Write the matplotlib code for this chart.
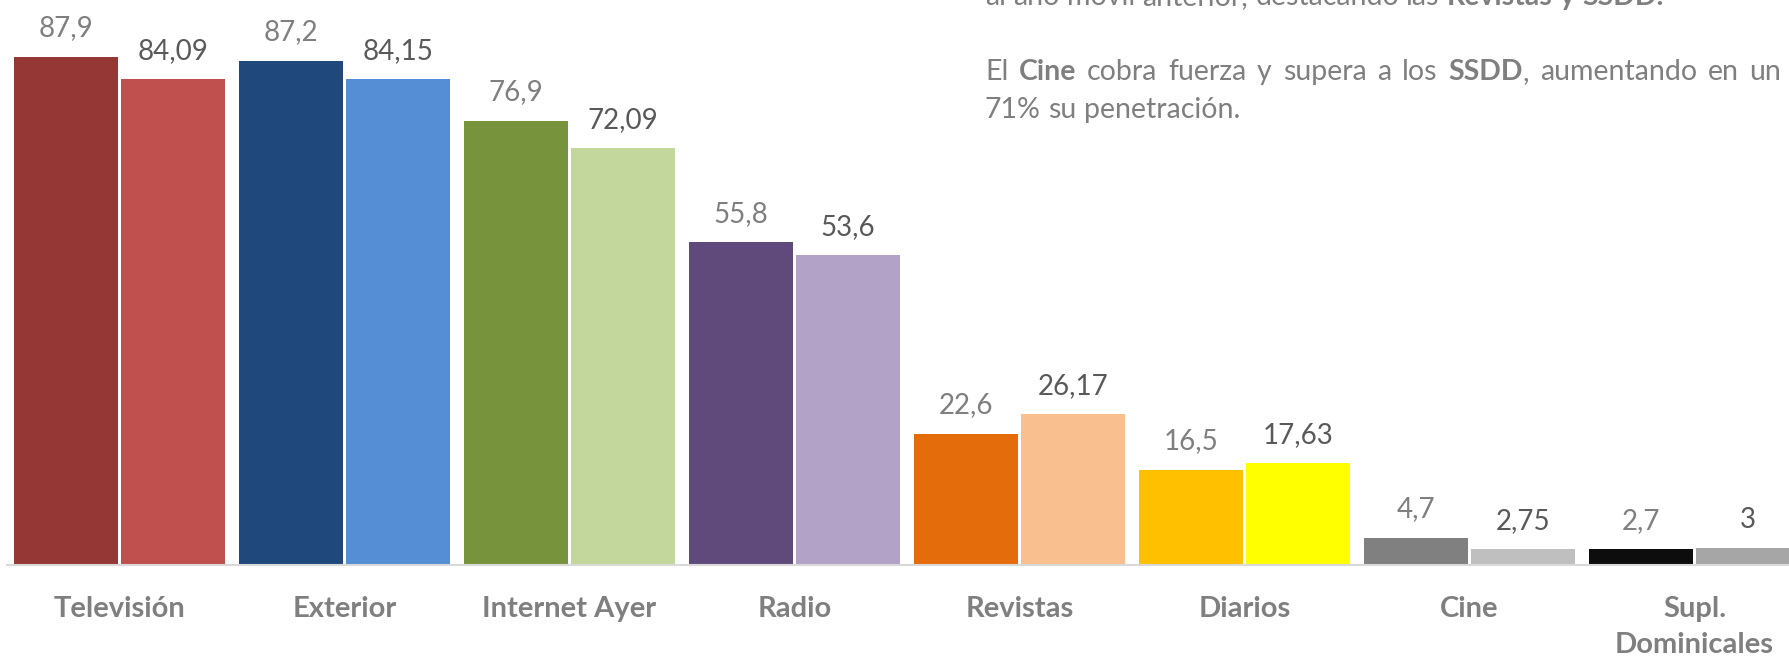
import matplotlib
matplotlib.use("Agg")
import matplotlib.pyplot as plt
from matplotlib.transforms import IdentityTransform, blended_transform_factory

plt.rcParams["font.family"] = ["Lato", "DejaVu Sans"]

categories = ["Televisión", "Exterior", "Internet Ayer", "Radio",
              "Revistas", "Diarios", "Cine", "Supl.\nDominicales"]
prev_values = [87.9, 87.2, 76.9, 55.8, 22.6, 16.5, 4.7, 2.7]
curr_values = [84.09, 84.15, 72.09, 53.6, 26.17, 17.63, 2.75, 3]
prev_labels = ["87,9", "87,2", "76,9", "55,8", "22,6", "16,5", "4,7", "2,7"]
curr_labels = ["84,09", "84,15", "72,09", "53,6", "26,17", "17,63", "2,75", "3"]

prev_colors = ["#953735", "#1F497D", "#77933C", "#604A7B",
               "#E46C0A", "#FFC000", "#808080", "#0D0D0D"]
curr_colors = ["#C0504D", "#558ED5", "#C3D69B", "#B3A2C7",
               "#F9BF8F", "#FFFF00", "#BFBFBF", "#A6A6A6"]

W, H = 1790, 658
fig = plt.figure(figsize=(W / 100, H / 100), dpi=100)

# axes: baseline at y=565px, left edge at 7px, runs to the right border
base_px = 565
ax = fig.add_axes([7 / W, (H - base_px) / H, 1 - 7 / W, base_px / H])
ax.set_xlim(-0.5, -0.5 + (W - 7) / 225)
ax.set_ylim(0, base_px / 5.78)

width = 0.462
off = 0.238
x = list(range(len(categories)))
ax.bar([i - off for i in x], prev_values, width, color=prev_colors)
ax.bar([i + off for i in x], curr_values, width, color=curr_colors)

for i in x:
    ax.annotate(prev_labels[i], (i - off, prev_values[i]), xytext=(0, 15),
                textcoords="offset points", ha="center", va="baseline",
                fontsize=20, color="#7F7F7F")
    ax.annotate(curr_labels[i], (i + off, curr_values[i]), xytext=(0, 14.4),
                textcoords="offset points", ha="center", va="baseline",
                fontsize=20, color="#595959")

for s in ["top", "left", "right"]:
    ax.spines[s].set_visible(False)
ax.spines["bottom"].set_color("#D9D9D9")
ax.spines["bottom"].set_linewidth(1.5)
ax.set_yticks([])
ax.set_xticks([])

# category names, first line baseline at 617px, next lines 36px lower
trans = blended_transform_factory(ax.transData, IdentityTransform())
for i, name in enumerate(categories):
    for k, part in enumerate(name.split("\n")):
        ax.text(i, H - 617 - 36 * k, part, transform=trans, ha="center",
                va="baseline", fontsize=21, fontweight="bold", color="#7F7F7F")

# comment text at top right, with bold words
renderer = fig.canvas.get_renderer()
txt_size = 20.5
txt_color = "#7F7F7F"


def piece_width(s, bold):
    t = fig.text(0, 0, s, fontsize=txt_size, fontweight="bold" if bold else "normal",
                 transform=IdentityTransform())
    w = t.get_window_extent(renderer).width
    t.remove()
    return w


def draw_line(words, x0, y_top, right=None):
    widths = [sum(piece_width(s, b) for s, b in w) for w in words]
    if right is None:
        gap = piece_width("a a", False) - piece_width("aa", False)
    else:
        gap = (right - x0 - sum(widths)) / (len(words) - 1)
    xx = x0
    y = H - y_top
    for w, wd in zip(words, widths):
        px = xx
        for s, b in w:
            t = fig.text(px, y, s, fontsize=txt_size, color=txt_color,
                         fontweight="bold" if b else "normal", va="baseline",
                         transform=IdentityTransform())
            px += t.get_window_extent(renderer).width
        xx += wd + gap


def plain(s):
    return [[(w, False)] for w in s.split()]


line0 = plain("al año móvil anterior, destacando las") + \
    [[("Revistas", True)], [("y", True)], [("SSDD.", True)]]
line1 = plain("El") + [[("Cine", True)]] + plain("cobra fuerza y supera a los") + \
    [[("SSDD", True), (",", False)]] + plain("aumentando en un")
line2 = plain("71% su penetración.")

draw_line(line0, 985, 5)
draw_line(line1, 985, 80, right=1781)
draw_line(line2, 985, 118)

fig.savefig("out.png", dpi=100)
